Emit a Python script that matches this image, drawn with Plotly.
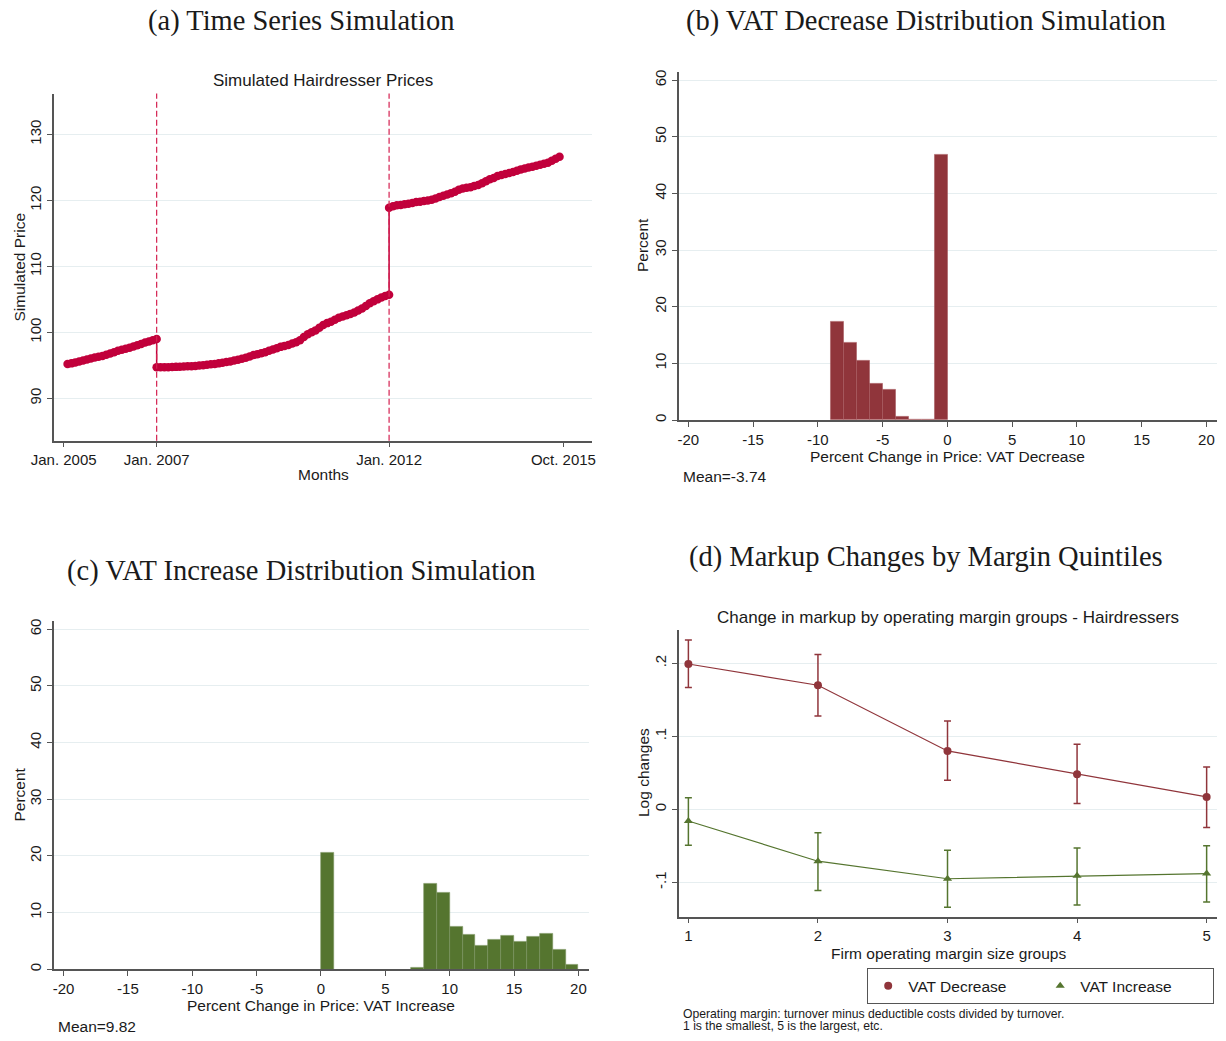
import plotly.graph_objects as go

W, H = 1226, 1041

# ---- (a) simulated hairdresser prices, month index since Jan. 2005 ----
price_pre = [95.2, 95.3, 95.45, 95.6, 95.75, 95.9, 96.05, 96.2, 96.3, 96.4, 96.6, 96.8,
             97.0, 97.2, 97.35, 97.5, 97.65, 97.85, 98.05, 98.25, 98.45, 98.6, 98.8, 99.0]
months_pre = list(range(1, 25))
price_mid = [94.7, 94.7, 94.72, 94.73, 94.75, 94.77, 94.8, 94.82, 94.85, 94.88, 94.92, 94.97,
             95.02, 95.1, 95.15, 95.22, 95.3, 95.4, 95.5, 95.6, 95.72, 95.85, 96.0, 96.15,
             96.35, 96.55, 96.7, 96.85, 97.0, 97.2, 97.4, 97.6, 97.8, 97.95, 98.1, 98.3,
             98.5, 98.8, 99.3, 99.7, 100.0, 100.3, 100.7, 101.1, 101.4, 101.6, 101.9, 102.2,
             102.4, 102.6, 102.8, 103.0, 103.3, 103.6, 104.0, 104.4, 104.7, 105.0, 105.3, 105.5,
             105.7]
months_mid = list(range(24, 85))
price_post = [118.9, 119.1, 119.25, 119.3, 119.4, 119.5, 119.6, 119.75, 119.8, 119.9, 120.0,
              120.1, 120.3, 120.5, 120.7, 120.9, 121.1, 121.3, 121.6, 121.8, 121.9, 122.0,
              122.2, 122.35, 122.6, 122.9, 123.2, 123.4, 123.7, 123.85, 124.0, 124.15, 124.3,
              124.5, 124.7, 124.85, 125.0, 125.1, 125.25, 125.4, 125.55, 125.7, 126.0, 126.3,
              126.6]
months_post = list(range(84, 129))
vat_change_months = [24, 84]
date_ticks = [0, 24, 84, 129]
date_labels = ["Jan. 2005", "Jan. 2007", "Jan. 2012", "Oct. 2015"]

# ---- (b) / (c) histograms, bin start and percent ----
dec_bins = [-9, -8, -7, -6, -5, -4, -3, -2, -1]
dec_pct = [17.3, 13.6, 10.5, 6.4, 5.3, 0.5, 0.0, 0.1, 46.9]
inc_bins = [0, 7, 8, 9, 10, 11, 12, 13, 14, 15, 16, 17, 18, 19]
inc_pct = [20.6, 0.35, 15.1, 13.5, 7.6, 6.1, 4.2, 5.2, 5.9, 4.9, 5.8, 6.3, 3.5, 0.9]
pct_ticks = [-20, -15, -10, -5, 0, 5, 10, 15, 20]

# ---- (d) markup changes by margin quintile ----
groups = [1, 2, 3, 4, 5]
dec_est = [0.199, 0.170, 0.080, 0.048, 0.017]
dec_lo = [0.167, 0.128, 0.040, 0.008, -0.025]
dec_hi = [0.232, 0.212, 0.121, 0.089, 0.058]
inc_est = [-0.016, -0.071, -0.095, -0.091, -0.088]
inc_lo = [-0.049, -0.111, -0.134, -0.131, -0.127]
inc_hi = [0.016, -0.032, -0.056, -0.053, -0.050]

RED = "#C1003B"
MAROON = "#90353B"
GREEN = "#55752F"
AXIS = "#555555"
GRID = "#E6EEF0"
SANS = "Liberation Sans"
SERIF = "Liberation Serif"


def fx(x):
    return x / W


def fy(y):
    return 1 - y / H


fig = go.Figure()

# (a) time series
fig.add_trace(go.Scatter(
    x=months_pre + months_mid + months_post,
    y=price_pre + price_mid + price_post,
    mode="lines+markers",
    line=dict(color=RED, width=1.5),
    marker=dict(color=RED, size=8.5),
    showlegend=False, xaxis="x", yaxis="y",
))

# (b) VAT decrease histogram
fig.add_trace(go.Bar(
    x=dec_bins, y=dec_pct, width=1, offset=0,
    marker=dict(color=MAROON, line=dict(color="#A85A60", width=0.6)),
    showlegend=False, xaxis="x2", yaxis="y2",
))

# (c) VAT increase histogram
fig.add_trace(go.Bar(
    x=inc_bins, y=inc_pct, width=1, offset=0,
    marker=dict(color=GREEN, line=dict(color="#7A9460", width=0.6)),
    showlegend=False, xaxis="x3", yaxis="y3",
))

# (d) markups with confidence intervals
for est, lo, hi, col, sym in [(dec_est, dec_lo, dec_hi, MAROON, "circle"),
                              (inc_est, inc_lo, inc_hi, GREEN, "triangle-up")]:
    fig.add_trace(go.Scatter(
        x=groups, y=est, mode="lines+markers",
        line=dict(color=col, width=1.2),
        marker=dict(color=col, size=8, symbol=sym),
        error_y=dict(type="data", symmetric=False,
                     array=[h - e for h, e in zip(hi, est)],
                     arrayminus=[e - l for e, l in zip(est, lo)],
                     color=col, thickness=1.5, width=3.5),
        showlegend=False, xaxis="x4", yaxis="y4",
    ))
for name, col, sym in [("VAT Decrease", MAROON, "circle"), ("VAT Increase", GREEN, "triangle-up")]:
    fig.add_trace(go.Scatter(
        x=[None], y=[None], mode="markers", name=name,
        marker=dict(color=col, size=8, symbol=sym),
        xaxis="x4", yaxis="y4",
    ))

axis_common = dict(showline=True, linecolor=AXIS, linewidth=1.5, ticks="outside",
                   ticklen=5, tickcolor=AXIS, zeroline=False, automargin=False,
                   tickfont=dict(family=SANS, size=15, color="#1a1a1a"))
xgrid_off = dict(showgrid=False)
ygrid = dict(showgrid=True, gridcolor=GRID, gridwidth=1, tickangle=-90)

fig.update_layout(
    width=W, height=H, autosize=False,
    margin=dict(l=0, r=0, t=0, b=0, autoexpand=False),
    paper_bgcolor="white", plot_bgcolor="white",
    font=dict(family=SANS, color="#1a1a1a"),
    xaxis=dict(domain=[fx(54), fx(591.7)], range=[-2.5, 136.3], anchor="y",
               tickvals=date_ticks, ticktext=date_labels, **xgrid_off, **axis_common),
    yaxis=dict(domain=[fy(440.7), fy(93.5)], range=[83.58, 136.2], anchor="x",
               tickvals=[90, 100, 110, 120, 130], **ygrid, **axis_common),
    xaxis2=dict(domain=[fx(678.8), fx(1217)], range=[-20.74, 20.82], anchor="y2",
                tickvals=pct_ticks, ticktext=[str(v) for v in pct_ticks],
                **xgrid_off, **axis_common),
    yaxis2=dict(domain=[fy(420), fy(71.7)], range=[0, 61.5], anchor="x2",
                tickvals=[0, 10, 20, 30, 40, 50, 60], **ygrid, **axis_common),
    xaxis3=dict(domain=[fx(54), fx(589)], range=[-20.74, 20.82], anchor="y3",
                tickvals=pct_ticks, ticktext=[str(v) for v in pct_ticks],
                **xgrid_off, **axis_common),
    yaxis3=dict(domain=[fy(969.3), fy(620.7)], range=[0, 61.5], anchor="x3",
                tickvals=[0, 10, 20, 30, 40, 50, 60], **ygrid, **axis_common),
    xaxis4=dict(domain=[fx(678.8), fx(1217)], range=[0.926, 5.08], anchor="y4",
                tickvals=groups, **xgrid_off, **axis_common),
    yaxis4=dict(domain=[fy(916.7), fy(630)], range=[-0.147, 0.2456], anchor="x4",
                tickvals=[-0.1, 0, 0.1, 0.2], ticktext=["-.1", "0", ".1", ".2"],
                **ygrid, **axis_common),
    bargap=0,
    legend=dict(x=fx(867), y=fy(968), xanchor="left", yanchor="top",
                orientation="h", bordercolor=AXIS, borderwidth=1.2,
                font=dict(family=SANS, size=15.5, color="#1a1a1a"),
                entrywidth=127, entrywidthmode="pixels", bgcolor="white",
                tracegroupgap=0, itemwidth=30),
)

# VAT reform dates
for m in vat_change_months:
    fig.add_shape(type="line", xref="x", yref="y domain", x0=m, x1=m, y0=0, y1=1,
                  line=dict(color="#D42050", width=1.2, dash="6px,3px"))

notes = [
    ("(a) Time Series Simulation", 301, 21, 0, SERIF, 28.5, "center"),
    ("(b) VAT Decrease Distribution Simulation", 925.5, 21, 0, SERIF, 28.5, "center"),
    ("(c) VAT Increase Distribution Simulation", 301.5, 571, 0, SERIF, 28.5, "center"),
    ("(d) Markup Changes by Margin Quintiles", 925.5, 557, 0, SERIF, 28.5, "center"),
    ("Simulated Hairdresser Prices", 323, 80.5, 0, SANS, 17, "center"),
    ("Simulated Price", 18.5, 267, -90, SANS, 15.5, "center"),
    ("Months", 323, 475, 0, SANS, 15.5, "center"),
    ("Percent", 643, 245, -90, SANS, 15.5, "center"),
    ("Percent Change in Price: VAT Decrease", 947.8, 456, 0, SANS, 15.5, "center"),
    ("Mean=-3.74", 681, 476, 0, SANS, 15.5, "left"),
    ("Percent", 18.5, 795, -90, SANS, 15.5, "center"),
    ("Percent Change in Price: VAT Increase", 321, 1005, 0, SANS, 15.5, "center"),
    ("Mean=9.82", 56, 1026, 0, SANS, 15.5, "left"),
    ("Change in markup by operating margin groups - Hairdressers", 948, 617, 0, SANS, 17, "center"),
    ("Log changes", 643, 773, -90, SANS, 15.5, "center"),
    ("Firm operating margin size groups", 948, 953, 0, SANS, 15.5, "center"),
    ("Operating margin: turnover minus deductible costs divided by turnover.", 681, 1013.5, 0, SANS, 12.2, "left"),
    ("1 is the smallest, 5 is the largest, etc.", 681, 1026, 0, SANS, 12.2, "left"),
]
for text, x, y, ang, fam, size, anchor in notes:
    fig.add_annotation(text=text, xref="paper", yref="paper", x=fx(x), y=fy(y),
                       xanchor=anchor, yanchor="middle", textangle=ang, showarrow=False,
                       font=dict(family=fam, size=size, color="#1a1a1a"))

# the page's default body margin would push the figure 8px down and right
fig.write_html("out.html", config={"displayModeBar": False},
               post_script="document.body.style.margin = '0';")
